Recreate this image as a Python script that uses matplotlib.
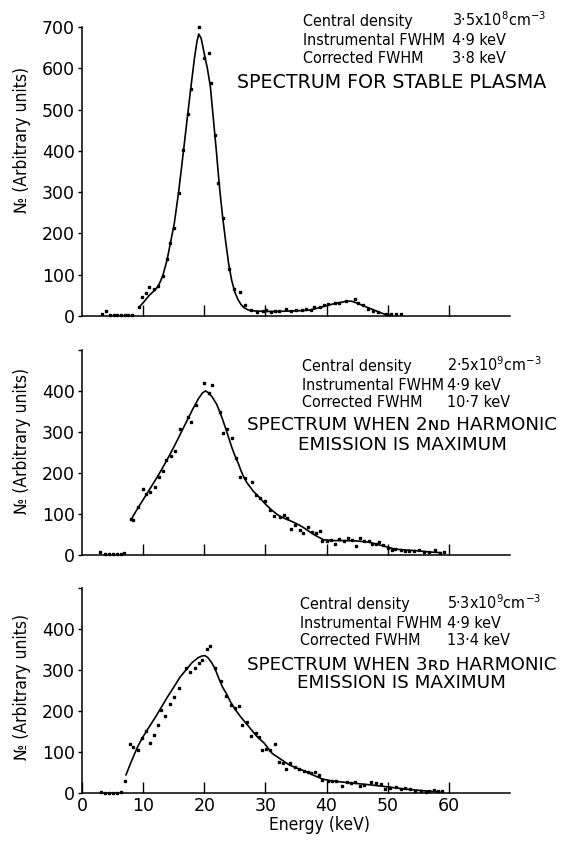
import matplotlib
matplotlib.use('Agg')
import matplotlib.pyplot as plt
from matplotlib import font_manager

# ---- data ----
# stable plasma
x_stable = [3.2, 3.9, 4.6, 5.2, 5.8, 6.4, 7.0, 7.6, 8.2, 9.3, 9.8, 10.4, 11.0, 11.7, 12.5,
            13.2, 13.9, 14.4, 15.1, 15.8, 16.6, 17.3, 17.9, 19.1, 20.0, 20.7, 21.1, 21.7,
            22.3, 23.0, 24.1, 24.9, 25.8, 26.7, 27.7, 28.7, 29.6, 30.1, 30.9, 31.5, 32.2,
            33.4, 34.2, 35.0, 35.9, 36.7, 37.5, 38.0, 38.9, 39.5, 40.2, 41.3, 42.1, 43.2,
            44.6, 45.1, 46.0, 46.8, 47.6, 48.4, 49.8, 50.6, 51.4, 52.2]
y_stable = [6, 12, 2, 2, 2, 2, 2, 2, 2, 21, 45, 55, 71, 65, 73,
            97, 137, 176, 212, 297, 402, 489, 551, 699, 626, 636, 565, 438,
            321, 237, 115, 65, 59, 27, 15, 10, 12, 15, 10, 12, 12,
            17, 12, 15, 14, 17, 15, 23, 22, 27, 28, 31, 32, 37,
            41, 31, 26, 18, 13, 9, 5, 4, 4, 4]
fit_x_stable = [9.3, 10.0, 11.0, 12.0, 12.5, 13.2, 13.9, 14.4, 15.1, 15.8, 16.6, 17.3, 17.9,
                18.4, 18.8, 19.1, 19.5, 20.0, 20.5, 21.0, 21.5, 22.0, 22.5, 23.0, 23.5, 24.0,
                24.5, 25.0, 25.5, 26.0, 26.5, 27.0, 27.5, 28.5, 30, 32, 34, 36, 37, 38, 39,
                40, 41, 42, 43, 43.5, 44, 44.5, 45, 46, 47, 48, 49, 49.8, 50.3]
fit_y_stable = [21, 32, 50, 64, 73, 97, 135, 172, 225, 300, 400, 490, 565,
                625, 665, 683, 672, 635, 600, 555, 475, 395, 310, 240, 180, 125,
                85, 58, 40, 28, 20, 16, 13, 12, 11, 11, 12, 13, 14, 17, 21,
                25, 29, 32, 35, 36, 36, 34, 31, 25, 19, 13, 7, 3, 2]

# 2nd harmonic
x_h2 = [2.9, 3.8, 4.4, 5.0, 5.7, 6.3, 6.9, 8.0, 8.4, 9.2, 9.9, 10.5, 11.2, 11.9, 12.6,
        13.2, 13.8, 14.5, 15.2, 16.0, 17.3, 17.9, 18.6, 20.0, 20.7, 21.2, 22.5, 23.1,
        23.7, 24.5, 25.2, 25.9, 26.7, 27.8, 28.5, 29.1, 29.9, 30.8, 31.4, 32.4, 33.0,
        33.5, 34.2, 34.9, 35.7, 36.2, 36.9, 37.6, 38.2, 38.9, 39.3, 40.0, 40.8, 41.4,
        42.1, 42.8, 43.5, 44.1, 44.8, 45.4, 46.1, 46.9, 47.4, 48.1, 48.6, 49.3, 50.0,
        50.7, 51.2, 52.1, 52.8, 53.4, 54.3, 55.1, 55.9, 56.7, 57.8, 58.5, 59.2]
y_h2 = [7, 1, 1, 1.5, 1.5, 2, 2.5, 88, 84, 117, 159, 148, 154, 164, 189,
        204, 231, 241, 254, 308, 337, 325, 366, 420, 394, 414, 349, 298,
        308, 284, 235, 189, 186, 178, 145, 137, 131, 109, 94, 92, 97,
        90, 62, 72, 60, 52, 68, 56, 52, 58, 34, 34, 35, 26,
        38, 34, 40, 35, 21, 40, 34, 34, 26, 26, 31, 23, 17,
        11, 14, 11, 9, 9, 9, 11, 7, 7, 11, 3, 5]
fit_x_h2 = [8, 9, 10, 11, 12, 13, 14, 15, 16, 17, 18, 19, 19.7, 20.2, 20.7, 21.3, 22.0,
            22.5, 23.0, 23.5, 24.0, 24.5, 25.0, 25.5, 26.0, 26.5, 27, 28, 29, 30, 31,
            32, 33, 34, 35, 36, 37, 38, 39, 39.5, 41, 43, 45, 47, 48, 49, 50, 51, 52,
            53, 55, 57, 58.6]
fit_y_h2 = [85, 110, 134, 158, 182, 207, 234, 262, 292, 322, 352, 380, 395, 400, 395,
            385, 368, 350, 330, 308, 285, 262, 242, 225, 205, 188, 175, 155, 140, 123,
            109, 97, 89, 83, 76, 68, 58, 48, 40, 36, 34, 34, 33, 30, 26, 22, 18, 14,
            12, 11, 9, 6, 4.5]

# 3rd harmonic
x_h3 = [3.1, 3.8, 4.4, 5.1, 5.7, 6.4, 7.0, 7.8, 8.4, 9.1, 9.8, 10.5, 11.1, 11.8, 12.4,
        13.0, 13.6, 14.4, 15.1, 15.8, 17.0, 17.7, 18.4, 19.1, 19.6, 20.5, 21.0, 21.7,
        22.8, 23.6, 24.3, 25.0, 25.7, 26.2, 27.0, 27.7, 28.5, 28.9, 29.5, 30.1, 30.8,
        31.6, 32.2, 32.9, 33.4, 34.1, 34.9, 35.5, 36.3, 36.9, 37.4, 38.1, 38.8, 39.3,
        40.2, 40.9, 41.6, 42.5, 43.3, 44.0, 44.7, 45.5, 46.2, 47.3, 48.1, 48.9, 49.6,
        50.4, 51.3, 52.1, 52.9, 53.7, 54.5, 55.4, 56.2, 56.8, 57.5, 58.3, 58.9]
y_h3 = [4, 1, 1, 1, 1, 4, 31, 120, 112, 105, 134, 152, 123, 143, 166,
        203, 188, 217, 235, 255, 306, 294, 306, 316, 324, 351, 358, 306,
        274, 237, 216, 207, 212, 166, 173, 139, 146, 136, 105, 109, 105,
        120, 77, 73, 58, 73, 65, 58, 55, 53, 49, 53, 45, 32,
        31, 30, 31, 18, 27, 26, 28, 18, 20, 28, 24, 22, 10.5,
        14, 16, 10.5, 12, 10.5, 5.7, 5.7, 4, 5.7, 8, 5.7, 6.5]
fit_x_h3 = [7.2, 8, 9, 9.4, 10, 11, 12, 13, 14, 15, 16, 17, 18, 19, 19.6, 20.1, 20.6,
            21.2, 21.7, 22.5, 23.0, 23.6, 24.3, 25.1, 26, 27.3, 28.5, 29.8, 31.1, 32.0,
            32.8, 33.9, 35, 36.6, 38, 39.3, 40.5, 42.1, 44.8, 47.5, 50.3, 53, 55.7, 58.5]
fit_y_h3 = [45, 75, 110, 122, 138, 162, 185, 210, 235, 258, 282, 300, 318, 330, 334,
            335, 330, 318, 305, 275, 258, 243, 222, 203, 185, 162, 140, 122, 97, 88,
            80, 69, 62, 53, 43, 35, 31, 28, 24, 20, 15, 10, 6.5, 3]

x_ticks = [0, 10, 20, 30, 40, 50, 60]
info = [
    ("Central density", "3·5x10$^{8}$cm$^{-3}$", "Instrumental FWHM", "4·9 keV",
     "Corrected FWHM", "3·8 keV"),
    ("Central density", "2·5x10$^{9}$cm$^{-3}$", "Instrumental FWHM", "4·9 keV",
     "Corrected FWHM", "10·7 keV"),
    ("Central density", "5·3x10$^{9}$cm$^{-3}$", "Instrumental FWHM", "4·9 keV",
     "Corrected FWHM", "13·4 keV"),
]

plt.rcParams['mathtext.default'] = 'regular'

# lettering in the original is a narrow sans; use a condensed face if there is one
narrow_file = None
for f in font_manager.fontManager.ttflist:
    n = f.name.lower()
    if ('narrow' in n or 'condensed' in n or f.stretch in ('condensed', 'semi-condensed')) \
            and f.style == 'normal' and f.weight in (400, 'normal', 'regular'):
        narrow_file = f.fname
        break
if narrow_file:
    def small(size):
        return font_manager.FontProperties(fname=narrow_file, size=size + 0.5)
else:
    def small(size):
        return font_manager.FontProperties(family=['Liberation Sans', 'DejaVu Sans'], size=size)

wide = ['DejaVu Sans']

W, H = 561, 841
fig = plt.figure(figsize=(W / 100, H / 100), dpi=100)


def P(px, py):
    return px / W, 1 - py / H


def make_axes(rect, ymax, yticks, ylabels, xlabels, ylab_y):
    ax = fig.add_axes(rect)
    for s in ['top', 'right']:
        ax.spines[s].set_visible(False)
    for s in ['left', 'bottom']:
        ax.spines[s].set_linewidth(1.1)
    ax.set_xlim(0, 70)
    ax.set_ylim(0, ymax)
    ax.set_xticks(x_ticks[1:] if not xlabels else x_ticks)
    ax.tick_params(axis='x', direction='in', length=8, width=1.0, pad=3)
    ax.tick_params(axis='y', direction='out', length=3, width=1.0, pad=2)
    if not xlabels:
        ax.set_xticklabels([])
    ax.set_yticks(yticks)
    ax.set_yticklabels(ylabels)
    for t in ax.get_yticklabels() + ax.get_xticklabels():
        t.set_family(wide)
        t.set_fontsize(12.5)
    ax.set_ylabel("№ (Arbitrary units)", fontproperties=small(12))
    ax.yaxis.set_label_coords(-0.12, ylab_y)
    return ax


left, width = 82 / W, 428 / W
ax1 = make_axes([left, (H - 316) / H, width, 289 / H], 700,
                [0, 100, 200, 300, 400, 500, 600, 700],
                ['0', '100', '200', '300', '400', '500', '600', '700'], False, 0.61)
ax2 = make_axes([left, (H - 554.5) / H, width, 204.5 / H], 500,
                [0, 100, 200, 300, 400, 500],
                ['0', '100', '200', '300', '400', ''], False, 0.555)
ax3 = make_axes([left, (H - 793.3) / H, width, 205.5 / H], 500,
                [0, 100, 200, 300, 400, 500],
                ['0', '100', '200', '300', '400', ''], True, 0.52)
ax3.set_xlabel("Energy (keV)", fontproperties=small(12))
ax3.xaxis.set_label_coords(0.554, -0.11)

for ax, xs, ys, fx, fy in [(ax1, x_stable, y_stable, fit_x_stable, fit_y_stable),
                           (ax2, x_h2, y_h2, fit_x_h2, fit_y_h2),
                           (ax3, x_h3, y_h3, fit_x_h3, fit_y_h3)]:
    ax.plot(fx, fy, color='black', lw=1.2, clip_on=False)
    ax.plot(xs, ys, 's', color='black', ms=2.0, clip_on=False)

# annotation blocks: (left x, value x, row baselines, title lines)
blocks = [
    (303, 452, [26, 45, 63], [("SPECTRUM FOR STABLE PLASMA", 237, 88, 13.7)]),
    (302, 447, [371, 390, 407], [("SPECTRUM WHEN 2ɴᴅ HARMONIC", 247, 430, 13.2),
                                 ("EMISSION IS MAXIMUM", 298, 450, 13.2)]),
    (300, 447, [609, 628, 645], [("SPECTRUM WHEN 3ʀᴅ HARMONIC", 247, 670, 13.2),
                                 ("EMISSION IS MAXIMUM", 297, 688, 13.2)]),
]
for (lx, vx, rows, titles), txt in zip(blocks, info):
    for i, yb in enumerate(rows):
        fig.text(*P(lx, yb), txt[2 * i], fontproperties=small(11), va='baseline')
        fig.text(*P(vx, yb), txt[2 * i + 1], fontproperties=small(11), va='baseline')
    for t, tx, ty, fs in titles:
        fig.text(*P(tx, ty), t, family=wide, fontsize=fs, va='baseline')

fig.savefig('out.png', dpi=100)
